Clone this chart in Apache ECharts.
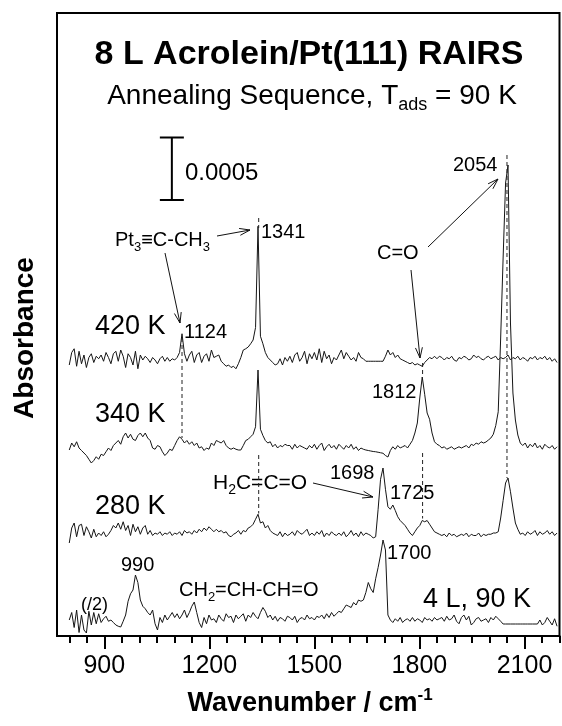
<!DOCTYPE html>
<html>
<head>
<meta charset="utf-8">
<script src="https://cdn.jsdelivr.net/npm/echarts@6/dist/echarts.min.js"></script>
<style>
html, body { margin: 0; padding: 0; background: #fff; }
#chart { width: 562px; height: 726px; }
</style>
</head>
<body>
<div id="chart"></div>
<script>
// wavenumber grid (cm-1) and absorbance in units of 1e-6
var wnStart = 800;
var wnStep = 7;
var spectraNames = ['420 K', '340 K', '280 K', '4 L, 90 K'];
var baselines = [2208, 1504, 824, 128];

var off420 = [
    -40, 60, 90, -50, 70, -30, 40, -60, 20, 50,
    -20, 30, 10, 40, -10, 60, 20, -30, 50, 70,
    -10, 80, 30, -60, 50, 20, -40, 70, -70, 40,
    0, 30, 10, -20, 20, 0, -30, 10, 30, -10,
    20, -10, 10, 0, 20, 60, 210, 50, -10, 40,
    70, -20, 40, 60, -20, 30, 50, -10, 80, 20,
    30, 40, -10, -30, -50, -40, -60, -50, -70, -30,
    20, 80, 90, 104, 130, 160, 260, 1070, 190, 130,
    60, 20, 0, -20, -40, -30, 10, -40, 20, -10,
    30, -20, 40, 60, -10, 20, 70, -30, 50, 10,
    60, 0, 90, -20, 70, 10, 40, -30, 20, 0,
    40, 80, 10, 60, 30, 0, 20, -10, 60, 20,
    10, -10, -10, -10, -10, -10, -10, -10, -10, 30,
    80, 40, 60, 20, 40, 10, 0, -10, -20, -30,
    -20, -40, -30, -40, -50, -20, 0, 20, 10, 30,
    10, 30, 20, 0, 20, 10, 30, 0, -10, 20,
    10, 30, 20, 0, 10, 40, 20, 30, 10, 0,
    20, 30, 10, 20, 30, 0, 20, 10, 20, 40,
    0, 20, 10, 30, 0, 20, 10, -10, 20, 10,
    30, 0, 20, 10, 30, 0, 20, -10, 10, -20
];
var off340 = [
    -16, 40, 10, 50, 0, -20, -40, -60, -90, -120,
    -100, -70, -90, -50, -60, -30, 0, -20, 20, 40,
    60, 30, 90, 120, 80, 110, 70, 60, 100, 120,
    90, 120, 80, 60, 0, -10, 20, 10, -30, -60,
    -40, -10, -20, 20, 60, 90, 70, 40, 60, 30,
    50, 20, 40, 0, 10, -20, 0, -10, 40, 20,
    60, 50, 40, 60, 20, 0, -10, 0, -10, -16,
    -16, 20, 60, 70, 90, 110, 170, 624, 150, 100,
    60, 40, 50, 10, 30, 0, 20, 10, 30, 20,
    20, -10, 30, 0, 20, 10, 0, -10, 20, 0,
    30, -10, 20, 40, -20, 10, 30, 0, 20, -10,
    30, 10, -10, 20, 0, 30, -10, 10, -20, 0,
    -10, -16, -20, -24, -28, -30, -34, -38, -42, -60,
    -72, -20, 10, -10, 20, 0, 10, 20, 0, 30,
    60, 120, 200, 400, 568, 430, 280, 230, 120, 50,
    30, 20, 0, 10, -10, 0, 10, -10, 0, 10,
    0, 10, 20, 0, 30, 20, 40, 30, 50, 40,
    48, 64, 80, 110, 180, 290, 880, 1520, 2120, 2264,
    1000, 440, 224, 104, 40, 20, 40, 0, 30, 10,
    40, 0, 20, -10, 30, 10, 0, 20, -10, 10
];
var off280 = [
    -80, 40, 80, -30, 60, 70, -20, 50, 10, -40,
    30, -30, 0, -20, 10, -30, -10, 20, 60, 40,
    80, 30, 90, 20, 60, -20, 70, 10, 50, -10,
    40, 60, -10, 20, -20, 0, -10, 10, -20, 0,
    -10, 10, -20, 0, -10, 10, -20, 20, 0, 10,
    -10, 20, 0, 30, 10, 40, 20, 50, 30, 10,
    30, 10, 20, 0, 10, -20, -30, -10, 0, 20,
    -10, 20, 10, 40, 50, 70, 110, 150, 80, 90,
    40, 60, 20, 0, -10, -20, 10, -30, 0, -20,
    -10, 10, -20, 20, 0, -10, 10, 30, -20, 0,
    -20, 10, -10, 20, -30, 0, -20, 10, -10, -20,
    0, -20, 10, -30, -10, 20, -20, 0, -30, 10,
    -20, 0, -10, -20, -40, -30, 190, 430, 520, 350,
    210, 190, 224, 180, 130, 100, 80, 60, 30, 0,
    -20, 10, 40, 60, 100, 90, 100, 70, 40, 10,
    0, -10, -20, -10, -30, 0, -20, -10, -30, -20,
    -10, -20, 0, -30, -10, -20, -20, 0, -30, -10,
    -20, -10, -10, 0, 0, 10, 120, 260, 400, 440,
    330, 200, 80, 30, -10, 0, -20, 10, -10, 0,
    20, -20, 10, -10, 0, 20, -10, 10, -20, 0
];
var off90 = [
    0, 60, -60, 80, -100, 40, -80, -104, 70, -40,
    60, -30, 50, -20, 10, 30, -10, 0, -20, -40,
    -50, -56, -10, 40, 150, 210, 240, 360, 300, 160,
    110, 90, 60, 40, 80, -30, -80, 20, -20, 40,
    0, 30, 60, 20, 50, 10, 40, 80, 20, 60,
    110, 144, 60, -20, -60, 20, -30, 40, 0, 10,
    -20, 40, 10, -10, 50, 20, 30, -20, 40, 10,
    30, 50, -10, 40, 20, 60, 30, 10, 60, 100,
    70, 20, 40, 0, 30, -10, 20, 10, -10, 30,
    20, 0, 30, -20, 10, 20, 0, 40, 10, 20,
    0, 30, 20, 40, 10, 50, 20, 60, 30, 50,
    70, 60, 90, 120, 110, 100, 140, 120, 160, 150,
    160, 220, 300, 250, 220, 330, 420, 520, 640, 560,
    40, 0, -20, 10, -10, 20, -20, 0, 10, -10,
    20, -10, 10, 0, -20, 20, 0, 10, -10, 20,
    0, 10, 20, -10, 30, 0, 10, 40, -10, -30,
    20, 40, 0, 30, -40, -20, 10, 20, -10, 0,
    10, -20, 20, 0, 30, 10, -10, -32, -32, -32,
    -32, -32, -32, -32, -32, -32, -32, -32, -32, -32,
    -32, -32, 0, -40, -20, 20, -10, -40, 10, -50
];
var spectra = [off420, off340, off280, off90];

var xMajorTicks = [900, 1200, 1500, 1800, 2100];
var xMinorTicks = [800, 850, 950, 1000, 1050, 1100, 1150, 1250, 1300, 1350, 1400, 1450,
    1550, 1600, 1650, 1700, 1750, 1850, 1900, 1950, 2000, 2050, 2150, 2200];

// dashed guide lines: [wavenumber, top, bottom]
var guideLines = [
    [1122, 2384, 1584],
    [1341, 3344, 3264],
    [1341, 1448, 980],
    [1809, 2184, 2072],
    [1809, 1464, 940],
    [2050, 3848, 1264]
];
// scale bar: [wavenumber, bottom, size]  (0.0005 = 500)
var scaleBar = [1093, 3488, 500];

var FONT = "'Liberation Sans', Arial, Helvetica, sans-serif";

function buildSeries() {
    var out = [];
    spectra.forEach(function (vals, k) {
        var pts = vals.map(function (v, i) {
            return [wnStart + i * wnStep, baselines[k] + v];
        });
        out.push({
            name: spectraNames[k],
            type: 'line',
            data: pts,
            symbol: 'none',
            lineStyle: {color: '#151515', width: 1},
            silent: true
        });
    });
    guideLines.forEach(function (g) {
        out.push({
            type: 'line',
            data: [[g[0], g[1]], [g[0], g[2]]],
            symbol: 'none',
            lineStyle: {color: '#222', width: 1, type: [4, 3]},
            silent: true
        });
    });
    out.push({
        type: 'line',
        data: [[scaleBar[0], scaleBar[1]], [scaleBar[0], scaleBar[1] + scaleBar[2]]],
        symbol: 'rect',
        symbolSize: [24, 2],
        showSymbol: true,
        itemStyle: {color: '#000'},
        lineStyle: {color: '#000', width: 2},
        silent: true
    });
    return out;
}

function arrow(x1, y1, x2, y2) {
    var a = Math.atan2(y2 - y1, x2 - x1), h = 11, s = 0.32;
    return [{
        type: 'line',
        shape: {x1: x1, y1: y1, x2: x2, y2: y2},
        style: {stroke: '#111', lineWidth: 1}
    }, {
        type: 'polyline',
        shape: {points: [
            [x2 - h * Math.cos(a - s), y2 - h * Math.sin(a - s)],
            [x2, y2],
            [x2 - h * Math.cos(a + s), y2 - h * Math.sin(a + s)]
        ]},
        style: {stroke: '#111', lineWidth: 1, fill: null}
    }];
}

function label(text, x, y, size, opts) {
    opts = opts || {};
    return {
        type: 'text',
        x: x,
        y: y,
        rotation: opts.rotation || 0,
        style: {
            text: text,
            fontFamily: FONT,
            fontSize: size,
            fontWeight: opts.bold ? 'bold' : 'normal',
            fill: '#000',
            align: opts.align || 'left',
            verticalAlign: 'middle',
            rich: opts.rich
        }
    };
}

function subRich(size) {
    return {
        n: {fontFamily: FONT, fontSize: size, lineHeight: size + 8, fill: '#000'},
        s: {fontFamily: FONT, fontSize: Math.round(size * 0.65), lineHeight: Math.round(size * 0.65), verticalAlign: 'bottom', fill: '#000'}
    };
}

var graphics = [
    label('8 L Acrolein/Pt(111) RAIRS', 309, 55, 34, {bold: true, align: 'center'}),
    label('{n|Annealing Sequence, T}{s|ads}{n| = 90 K}', 312, 96, 28, {align: 'center', rich: subRich(28)}),
    label('0.0005', 185, 173, 24),
    label('{n|Pt}{s|3}{n|\u2261C-CH}{s|3}', 115, 240, 20, {rich: subRich(20)}),
    label('1341', 261, 232, 20),
    label('1124', 184, 332, 20),
    label('2054', 453, 165, 20),
    label('C=O', 377, 253, 20),
    label('1812', 372, 392, 20),
    label('{n|H}{s|2}{n|C=C=O}', 213, 483, 21, {rich: subRich(21)}),
    label('1698', 330, 473, 20),
    label('1725', 390, 493, 20),
    label('990', 121, 565, 20),
    label('1700', 387, 553, 20),
    label('{n|CH}{s|2}{n|=CH-CH=O}', 179, 590, 20, {rich: subRich(20)}),
    label('(/2)', 81, 605, 18),
    label('420 K', 95, 327, 27),
    label('340 K', 95, 415, 27),
    label('280 K', 95, 507, 27),
    label('4 L, 90 K', 423, 600, 27),
    label('Absorbance', 25, 338, 28, {bold: true, align: 'center', rotation: Math.PI / 2}),
    label('{t|Wavenumber / cm}{p|-1}', 310, 704, 27, {
        bold: true, align: 'center',
        rich: {
            t: {fontFamily: FONT, fontSize: 27, fontWeight: 'bold', lineHeight: 34, fill: '#000'},
            p: {fontFamily: FONT, fontSize: 17, fontWeight: 'bold', lineHeight: 17, verticalAlign: 'top', fill: '#000'}
        }
    })
].concat(
    arrow(217, 236, 250, 230),
    arrow(165, 253, 180, 323),
    arrow(428, 247, 498, 179),
    arrow(411, 270, 420, 358),
    arrow(313, 483, 373, 497)
);

var chart = echarts.init(document.getElementById('chart'), null, {renderer: 'canvas'});
chart.setOption({
    backgroundColor: '#fff',
    animation: false,
    grid: {
        left: 57,
        right: 2.5,
        top: 13,
        bottom: 90,
        show: true,
        borderColor: '#000',
        borderWidth: 2,
        backgroundColor: 'transparent'
    },
    xAxis: [{
        type: 'value',
        min: 765,
        max: 2200,
        splitLine: {show: false},
        axisLine: {lineStyle: {color: '#000', width: 2}},
        axisTick: {customValues: xMinorTicks, length: 7, lineStyle: {color: '#000', width: 2}},
        axisLabel: {
            customValues: xMajorTicks,
            formatter: function (v) { return String(v); },
            fontFamily: FONT,
            fontSize: 25,
            color: '#000',
            margin: 18
        }
    }, {
        type: 'value',
        min: 765,
        max: 2200,
        position: 'bottom',
        splitLine: {show: false},
        axisLine: {show: false},
        axisTick: {customValues: xMajorTicks, length: 13, lineStyle: {color: '#000', width: 2}},
        axisLabel: {show: false}
    }],
    yAxis: {
        type: 'value',
        min: 0,
        max: 4984,
        show: false
    },
    series: buildSeries(),
    graphic: graphics
});
</script>
</body>
</html>
